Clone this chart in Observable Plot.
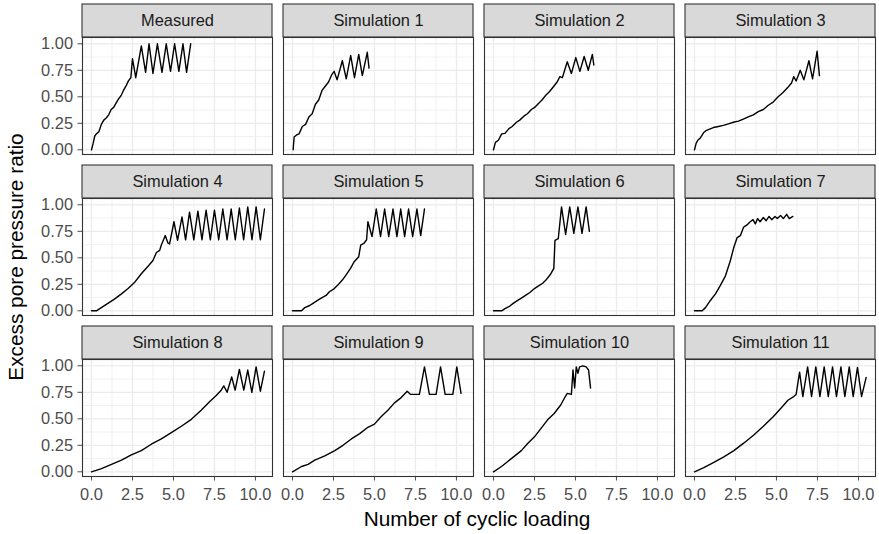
<!DOCTYPE html>
<html>
<head>
<meta charset="utf-8">
<script src="https://cdn.jsdelivr.net/npm/d3@7"></script>
<script src="https://cdn.jsdelivr.net/npm/@observablehq/plot@0.6"></script>
<style>
  body { margin: 0; background: #fff; }
  #wrap { position: relative; width: 879px; height: 534px; font-family: "Liberation Sans", Arial, sans-serif; background: #fff; }
  #wrap svg { position: absolute; left: 0; top: 0; }
  .xtitle { position: absolute; left: 277px; width: 400px; top: 507px; height: 24px; line-height: 24px; text-align: center; font-size: 20.8px; color: #000; }
  .ytitle { position: absolute; left: -184px; top: 245px; width: 400px; height: 24px; line-height: 24px; text-align: center; font-size: 20.8px; color: #000; transform: rotate(-90deg); }
</style>
</head>
<body>
<div id="wrap"></div>
<script>
// ---- data: [cycles, ratio] ----
const panelNames = ["Measured", "Simulation 1", "Simulation 2", "Simulation 3",
  "Simulation 4", "Simulation 5", "Simulation 6", "Simulation 7",
  "Simulation 8", "Simulation 9", "Simulation 10", "Simulation 11"];

const measured = [[0,0],[0.1,0.06],[0.2,0.13],[0.3,0.15],[0.45,0.17],[0.6,0.24],[0.75,0.28],[0.9,0.30],[1.05,0.33],[1.2,0.38],[1.35,0.40],[1.5,0.44],[1.65,0.48],[1.8,0.51],[1.95,0.56],[2.1,0.60],[2.25,0.65],[2.4,0.68],[2.5,0.86],[2.7,0.68],[3.04,0.98],[3.3,0.73],[3.51,1.0],[3.75,0.72],[4.02,1.0],[4.3,0.73],[4.56,1.0],[4.82,0.74],[5.07,1.0],[5.33,0.74],[5.58,1.0],[5.8,0.73],[6.05,1.0]];
const sim1 = [[0.04,0],[0.1,0.12],[0.25,0.14],[0.4,0.15],[0.6,0.22],[0.8,0.24],[1.0,0.31],[1.2,0.34],[1.4,0.43],[1.6,0.47],[1.8,0.56],[2.0,0.60],[2.2,0.64],[2.4,0.71],[2.54,0.74],[2.72,0.66],[3.04,0.84],[3.28,0.67],[3.55,0.89],[3.78,0.68],[4.04,0.9],[4.26,0.7],[4.56,0.92],[4.67,0.77]];
const sim2 = [[0,0],[0.12,0.07],[0.3,0.09],[0.5,0.15],[0.7,0.155],[0.94,0.2],[1.14,0.22],[1.4,0.26],[1.6,0.28],[1.87,0.32],[2.07,0.34],[2.31,0.38],[2.51,0.40],[2.76,0.44],[2.96,0.47],[3.22,0.52],[3.42,0.55],[3.68,0.6],[3.88,0.64],[4.05,0.69],[4.2,0.68],[4.5,0.83],[4.75,0.72],[5.02,0.87],[5.27,0.74],[5.53,0.88],[5.78,0.75],[6.03,0.9],[6.12,0.8]];
const sim3 = [[0,0],[0.1,0.06],[0.2,0.09],[0.35,0.11],[0.55,0.16],[0.7,0.18],[0.85,0.19],[1.15,0.21],[1.46,0.22],[1.76,0.23],[2.07,0.245],[2.37,0.26],[2.68,0.27],[2.98,0.29],[3.28,0.31],[3.59,0.33],[3.89,0.36],[4.2,0.38],[4.5,0.42],[4.8,0.45],[5.1,0.5],[5.4,0.54],[5.7,0.59],[5.92,0.63],[6.05,0.69],[6.2,0.65],[6.45,0.75],[6.67,0.66],[6.98,0.84],[7.2,0.67],[7.48,0.93],[7.62,0.7]];
const sim4 = [[0,0],[0.3,0],[0.6,0.03],[1.0,0.07],[1.4,0.11],[1.83,0.16],[2.23,0.21],[2.64,0.27],[3.04,0.35],[3.45,0.42],[3.75,0.475],[3.96,0.55],[4.16,0.57],[4.26,0.62],[4.5,0.71],[4.66,0.64],[4.76,0.63],[5.03,0.84],[5.25,0.665],[5.52,0.885],[5.74,0.67],[5.98,0.93],[6.24,0.67],[6.49,0.94],[6.74,0.67],[6.99,0.95],[7.25,0.67],[7.5,0.95],[7.76,0.67],[8.01,0.96],[8.27,0.67],[8.52,0.96],[8.77,0.67],[9.02,0.97],[9.28,0.67],[9.53,0.98],[9.79,0.67],[10.04,0.98],[10.3,0.67],[10.55,0.96]];
const sim5 = [[0,0],[0.55,0],[0.75,0.03],[1.05,0.05],[1.25,0.07],[1.55,0.1],[1.75,0.12],[2.05,0.145],[2.25,0.18],[2.55,0.21],[2.75,0.24],[3.04,0.29],[3.25,0.335],[3.54,0.4],[3.75,0.46],[4.04,0.51],[4.16,0.62],[4.35,0.635],[4.52,0.67],[4.6,0.84],[4.85,0.7],[5.11,0.96],[5.37,0.7],[5.62,0.96],[5.87,0.7],[6.13,0.96],[6.37,0.7],[6.6,0.96],[6.84,0.7],[7.08,0.96],[7.33,0.7],[7.59,0.96],[7.82,0.71],[8.05,0.96]];
const sim6 = [[0,0],[0.5,0],[0.7,0.02],[1.0,0.045],[1.2,0.07],[1.5,0.1],[1.7,0.12],[2.0,0.15],[2.2,0.17],[2.5,0.21],[2.7,0.23],[3.0,0.26],[3.2,0.29],[3.5,0.35],[3.68,0.4],[3.75,0.665],[3.95,0.68],[4.15,0.98],[4.4,0.72],[4.65,0.98],[4.9,0.73],[5.15,0.98],[5.4,0.73],[5.65,0.98],[5.85,0.75]];
const sim7 = [[0,0],[0.47,0],[0.67,0.03],[0.98,0.1],[1.28,0.16],[1.58,0.24],[1.89,0.33],[2.19,0.475],[2.4,0.6],[2.6,0.69],[2.8,0.71],[3.0,0.79],[3.2,0.81],[3.4,0.84],[3.57,0.86],[3.71,0.82],[3.85,0.87],[4.0,0.84],[4.2,0.88],[4.37,0.85],[4.55,0.89],[4.71,0.86],[4.91,0.89],[5.05,0.87],[5.25,0.9],[5.42,0.87],[5.62,0.91],[5.78,0.87],[6.0,0.89]];
const sim8 = [[0,0],[0.61,0.03],[1.22,0.07],[1.83,0.11],[2.43,0.16],[3.04,0.2],[3.65,0.26],[4.26,0.31],[4.87,0.37],[5.48,0.43],[6.09,0.495],[6.69,0.58],[7.2,0.66],[7.61,0.72],[7.91,0.77],[8.07,0.81],[8.27,0.75],[8.55,0.895],[8.76,0.77],[9.02,0.965],[9.29,0.77],[9.53,0.96],[9.78,0.75],[10.04,0.99],[10.3,0.76],[10.55,0.95]];
const sim9 = [[0,0],[0.55,0.05],[0.95,0.07],[1.36,0.11],[1.97,0.15],[2.58,0.2],[3.08,0.25],[3.59,0.31],[4.1,0.36],[4.6,0.42],[5.0,0.45],[5.4,0.52],[5.82,0.58],[6.22,0.65],[6.63,0.7],[7.0,0.76],[7.2,0.73],[7.74,0.73],[8.05,0.99],[8.35,0.73],[8.76,0.73],[9.03,0.99],[9.31,0.73],[9.78,0.73],[10.02,0.99],[10.28,0.74]];
const sim10 = [[0,0],[0.49,0.05],[0.89,0.1],[1.3,0.15],[1.7,0.2],[2.1,0.27],[2.5,0.33],[2.9,0.41],[3.3,0.49],[3.7,0.55],[4.1,0.63],[4.38,0.71],[4.5,0.74],[4.75,0.73],[4.85,0.96],[4.95,0.79],[5.05,0.99],[5.15,0.93],[5.25,0.99],[5.45,1.0],[5.65,0.99],[5.8,0.96],[5.92,0.79]];
const sim11 = [[0,0],[0.57,0.04],[1.18,0.09],[1.79,0.14],[2.4,0.2],[3.0,0.27],[3.6,0.345],[4.2,0.43],[4.8,0.52],[5.3,0.605],[5.7,0.675],[6.05,0.71],[6.2,0.73],[6.41,0.94],[6.61,0.71],[6.9,0.99],[7.14,0.71],[7.4,0.99],[7.65,0.71],[7.91,0.99],[8.16,0.71],[8.42,0.99],[8.66,0.71],[8.93,0.99],[9.17,0.71],[9.44,0.99],[9.68,0.71],[9.94,0.985],[10.19,0.71],[10.47,0.89]];

const xMajorTicks = [0, 2.5, 5, 7.5, 10];
const xMinorTicks = [1.25, 3.75, 6.25, 8.75];
const yMajorTicks = [0, 0.25, 0.5, 0.75, 1];
const yMinorTicks = [0.125, 0.375, 0.625, 0.875];

// ---- build tables ----
const seriesList = [measured, sim1, sim2, sim3, sim4, sim5, sim6, sim7, sim8, sim9, sim10, sim11];
const panels = panelNames.map((name, i) => ({name, col: i % 4, row: Math.floor(i / 4)}));
const rows = [];
seriesList.forEach((s, i) => s.forEach(([x, y]) => rows.push({panel: panelNames[i], col: i % 4, row: Math.floor(i / 4), x, y})));

const X_DOMAIN = [-0.548, 11.04];
const Y_DOMAIN = [-0.0443, 1.0594];
const STRIP = 0.3113; // strip height expressed in y units

const chart = Plot.plot({
  width: 879,
  height: 534,
  marginLeft: 81,
  marginRight: 3,
  marginTop: 37,
  marginBottom: 58,
  style: {fontSize: "16.4px", fontFamily: "'Liberation Sans', Arial, sans-serif", color: "#4D4D4D", background: "transparent", overflow: "visible"},
  fx: {axis: null, domain: [0, 1, 2, 3], paddingInner: 0.055, paddingOuter: 0},
  fy: {axis: null, domain: [0, 1, 2], paddingInner: 0.2733, paddingOuter: 0},
  x: {domain: X_DOMAIN, ticks: xMajorTicks, tickFormat: d3.format(".1f"), tickSize: 4.5, tickPadding: 7, label: null},
  y: {domain: Y_DOMAIN, ticks: yMajorTicks, tickFormat: d3.format(".2f"), tickSize: 4.5, tickPadding: 5, label: null},
  marks: [
    Plot.ruleX(xMinorTicks, {stroke: "#EBEBEB", strokeWidth: 0.7}),
    Plot.ruleY(yMinorTicks, {stroke: "#EBEBEB", strokeWidth: 0.7}),
    Plot.ruleX(xMajorTicks, {stroke: "#EBEBEB", strokeWidth: 1.3}),
    Plot.ruleY(yMajorTicks, {stroke: "#EBEBEB", strokeWidth: 1.3}),
    Plot.rect(panels, {
      x1: () => X_DOMAIN[0], x2: () => X_DOMAIN[1],
      y1: () => Y_DOMAIN[1], y2: () => Y_DOMAIN[1] + STRIP,
      fx: "col", fy: "row", fill: "#D9D9D9", stroke: "#333333", strokeWidth: 1.1
    }),
    Plot.text(panels, {
      x: () => (X_DOMAIN[0] + X_DOMAIN[1]) / 2, y: () => Y_DOMAIN[1] + STRIP / 2,
      text: "name", fx: "col", fy: "row", fill: "#1A1A1A", fontSize: 16.4
    }),
    Plot.line(rows, {x: "x", y: "y", z: "panel", fx: "col", fy: "row", stroke: "#000", strokeWidth: 1.4, strokeLinejoin: "round"}),
    Plot.frame({stroke: "#333333", strokeWidth: 1.1})
  ]
});

const wrap = document.getElementById("wrap");
wrap.appendChild(chart);
const xt = document.createElement("div");
xt.className = "xtitle";
xt.textContent = "Number of cyclic loading";
wrap.appendChild(xt);
const yt = document.createElement("div");
yt.className = "ytitle";
yt.textContent = "Excess pore pressure ratio";
wrap.appendChild(yt);
</script>
</body>
</html>
